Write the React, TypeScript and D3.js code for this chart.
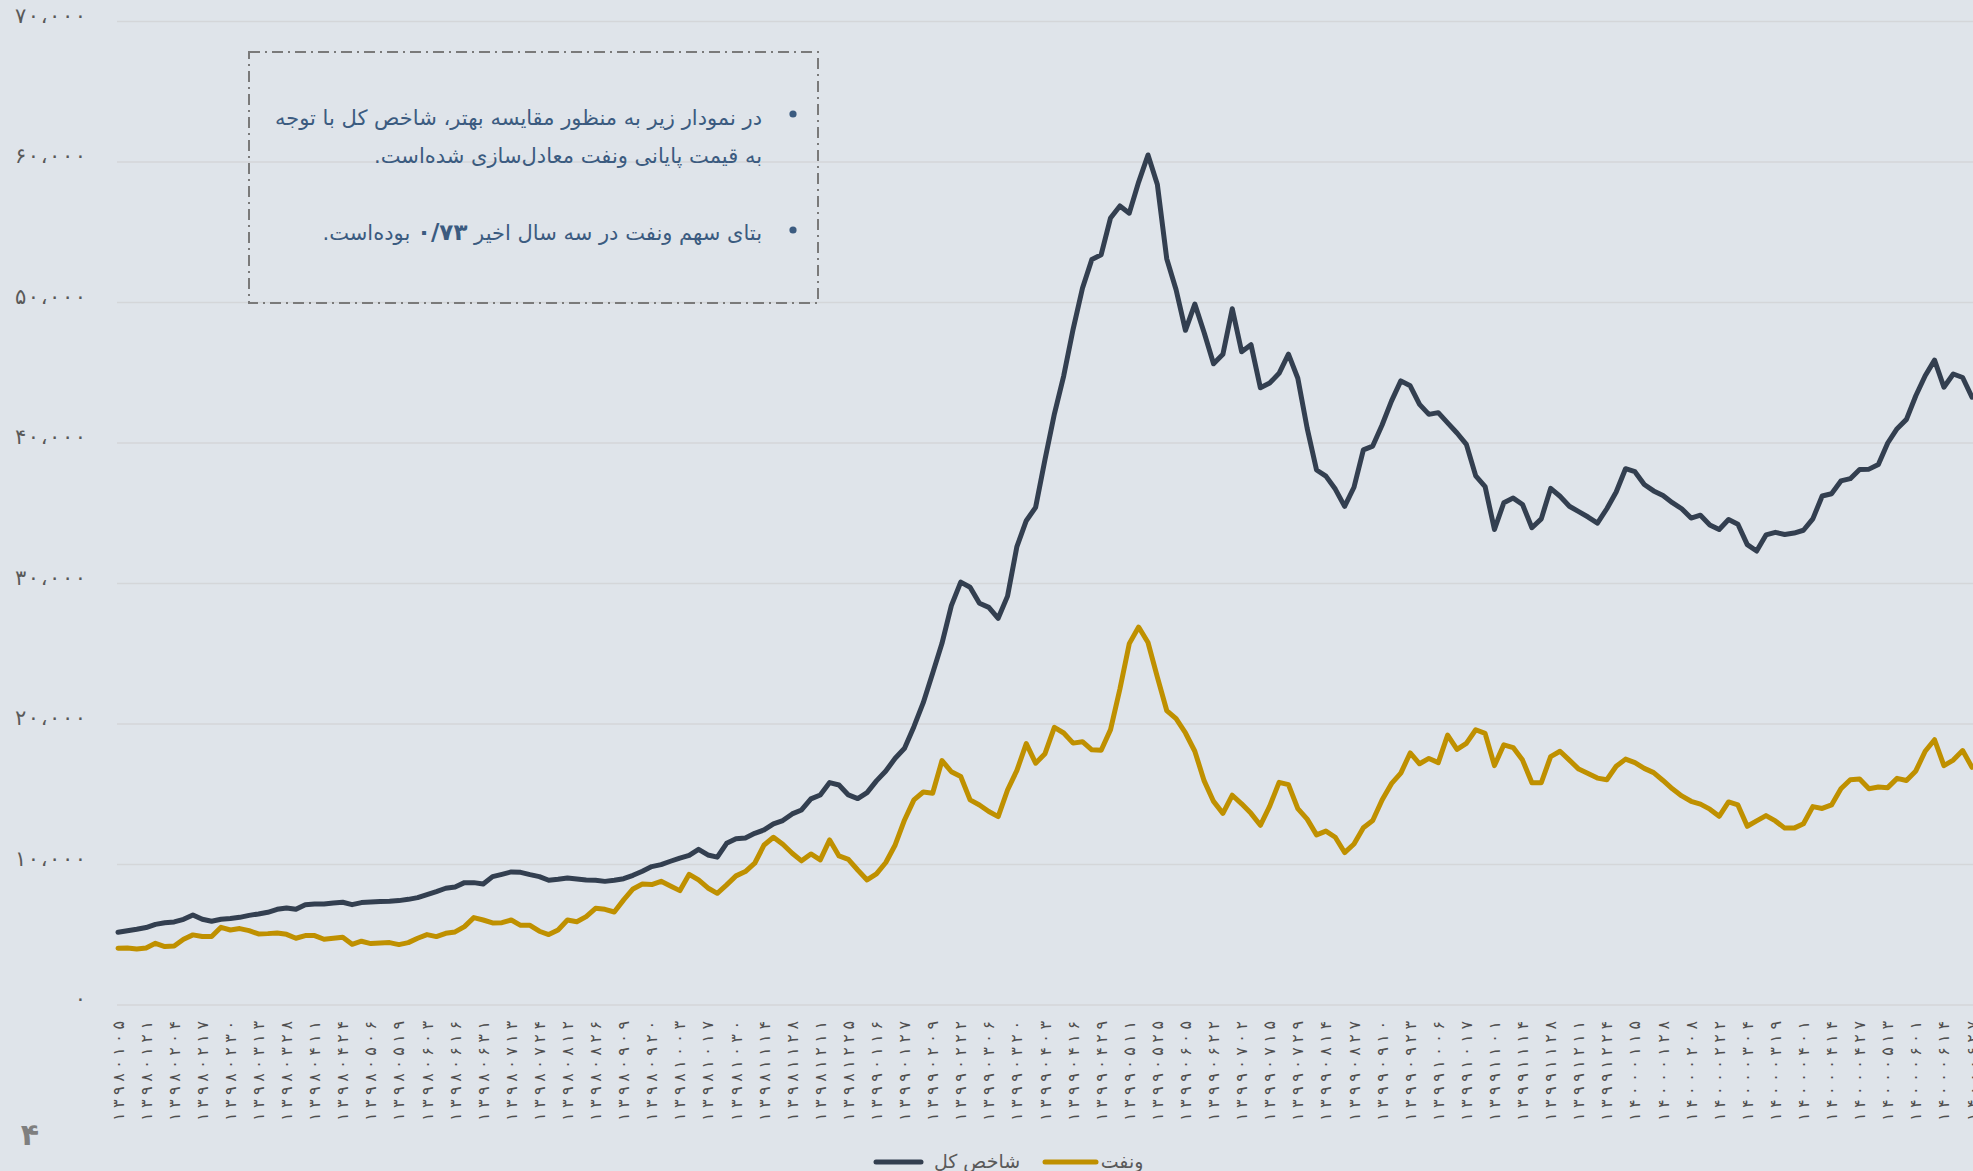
import { useEffect, useRef } from "react";
import * as d3 from "d3";

// x axis categories (one label every 3 samples)
const dateLabels = [
  "۱۳۹۸۰۱۰۵", "۱۳۹۸۰۱۲۱", "۱۳۹۸۰۲۰۴", "۱۳۹۸۰۲۱۷", "۱۳۹۸۰۲۳۰", "۱۳۹۸۰۳۱۳", "۱۳۹۸۰۳۲۸", "۱۳۹۸۰۴۱۱",
  "۱۳۹۸۰۴۲۴", "۱۳۹۸۰۵۰۶", "۱۳۹۸۰۵۱۹", "۱۳۹۸۰۶۰۳", "۱۳۹۸۰۶۱۶", "۱۳۹۸۰۶۳۱", "۱۳۹۸۰۷۱۳", "۱۳۹۸۰۷۲۴",
  "۱۳۹۸۰۸۱۲", "۱۳۹۸۰۸۲۶", "۱۳۹۸۰۹۰۹", "۱۳۹۸۰۹۲۰", "۱۳۹۸۱۰۰۳", "۱۳۹۸۱۰۱۷", "۱۳۹۸۱۰۳۰", "۱۳۹۸۱۱۱۴",
  "۱۳۹۸۱۱۲۸", "۱۳۹۸۱۲۱۱", "۱۳۹۸۱۲۲۵", "۱۳۹۹۰۱۱۶", "۱۳۹۹۰۱۲۷", "۱۳۹۹۰۲۰۹", "۱۳۹۹۰۲۲۲", "۱۳۹۹۰۳۰۶",
  "۱۳۹۹۰۳۲۰", "۱۳۹۹۰۴۰۳", "۱۳۹۹۰۴۱۶", "۱۳۹۹۰۴۲۹", "۱۳۹۹۰۵۱۱", "۱۳۹۹۰۵۲۵", "۱۳۹۹۰۶۰۵", "۱۳۹۹۰۶۲۲",
  "۱۳۹۹۰۷۰۲", "۱۳۹۹۰۷۱۵", "۱۳۹۹۰۷۲۹", "۱۳۹۹۰۸۱۴", "۱۳۹۹۰۸۲۷", "۱۳۹۹۰۹۱۰", "۱۳۹۹۰۹۲۳", "۱۳۹۹۱۰۰۶",
  "۱۳۹۹۱۰۱۷", "۱۳۹۹۱۱۰۱", "۱۳۹۹۱۱۱۴", "۱۳۹۹۱۱۲۸", "۱۳۹۹۱۲۱۱", "۱۳۹۹۱۲۲۴", "۱۴۰۰۰۱۱۵", "۱۴۰۰۰۱۲۸",
  "۱۴۰۰۰۲۰۸", "۱۴۰۰۰۲۲۲", "۱۴۰۰۰۳۰۴", "۱۴۰۰۰۳۱۹", "۱۴۰۰۰۴۰۱", "۱۴۰۰۰۴۱۴", "۱۴۰۰۰۴۲۷", "۱۴۰۰۰۵۱۳",
  "۱۴۰۰۰۶۰۱", "۱۴۰۰۰۶۱۴", "۱۴۰۰۰۶۲۷",
];
const STEPS_PER_LABEL = 3;

// شاخص کل (equalised to ونفت price)
const shakhesValues = [
  5180, 5290, 5390, 5510, 5740, 5860, 5910, 6100, 6410, 6100,
  5960, 6100, 6150, 6240, 6380, 6480, 6600, 6810, 6910, 6810,
  7140, 7190, 7190, 7260, 7310, 7140, 7290, 7330, 7360, 7380,
  7430, 7520, 7640, 7860, 8070, 8310, 8400, 8710, 8710, 8610,
  9140, 9300, 9470, 9440, 9280, 9140, 8880, 8950, 9040, 8970,
  8900, 8880, 8800, 8880, 8990, 9230, 9520, 9850, 9990, 10230,
  10460, 10650, 11080, 10680, 10520, 11510, 11840, 11890, 12220, 12460,
  12890, 13130, 13600, 13880, 14670, 14950, 15830, 15660, 14950, 14690,
  15120, 15950, 16660, 17560, 18270, 19810, 21520, 23610, 25740, 28420,
  30100, 29730, 28590, 28300, 27520, 29100, 32630, 34470, 35420, 38830,
  42060, 44780, 48090, 51010, 53060, 53400, 56020, 56870, 56360, 58570,
  60500, 58400, 53120, 50910, 48020, 49890, 47850, 45640, 46320, 49550,
  46490, 47000, 43930, 44270, 44960, 46320, 44610, 41040, 38080, 37640,
  36720, 35490, 36850, 39510, 39780, 41280, 42980, 44420, 44070, 42750,
  42040, 42160, 41430, 40710, 39900, 37660, 36900, 33840, 35750, 36080,
  35620, 33970, 34600, 36770, 36210, 35500, 35110, 34730, 34300, 35320,
  36510, 38170, 37960, 37050, 36590, 36260, 35750, 35320, 34660, 34860,
  34170, 33840, 34550, 34220, 32770, 32310, 33460, 33640, 33490, 33590,
  33790, 34600, 36230, 36390, 37300, 37460, 38120, 38140, 38470, 40000,
  41020, 41680, 43360, 44790, 45900, 43970, 44910, 44660, 43260,
];

// ونفت closing price
const vanaftValues = [
  4040, 4060, 3990, 4060, 4390, 4160, 4200, 4680, 4990, 4870,
  4870, 5530, 5340, 5440, 5290, 5060, 5080, 5130, 5030, 4750,
  4940, 4940, 4680, 4750, 4820, 4320, 4540, 4370, 4420, 4440,
  4300, 4440, 4750, 5010, 4870, 5100, 5200, 5580, 6220, 6050,
  5840, 5860, 6050, 5670, 5670, 5250, 5010, 5340, 6050, 5930,
  6290, 6880, 6810, 6620, 7480, 8260, 8610, 8570, 8800, 8470,
  8140, 9300, 8900, 8330, 7950, 8550, 9190, 9500, 10090, 11390,
  11940, 11440, 10800, 10260, 10750, 10330, 11750, 10610, 10370, 9610,
  8900, 9330, 10140, 11390, 13170, 14600, 15160, 15070, 17400, 16600,
  16260, 14600, 14240, 13770, 13410, 15300, 16700, 18600, 17210, 17890,
  19760, 19360, 18640, 18740, 18160, 18130, 19600, 22490, 25720, 26900,
  25800, 23340, 20960, 20380, 19360, 18060, 15950, 14490, 13640, 14930,
  14320, 13640, 12790, 14150, 15850, 15680, 13980, 13230, 12110, 12380,
  11940, 10850, 11460, 12620, 13130, 14590, 15750, 16500, 17940, 17170,
  17550, 17250, 19210, 18190, 18620, 19590, 19330, 17040, 18520, 18320,
  17430, 15820, 15820, 17680, 18060, 17430, 16790, 16480, 16150, 16030,
  16990, 17500, 17250, 16840, 16540, 15980, 15390, 14880, 14500, 14300,
  13940, 13430, 14450, 14240, 12720, 13100, 13480, 13100, 12590, 12590,
  12900, 14120, 13990, 14240, 15390, 16030, 16080, 15390, 15520, 15470,
  16130, 15980, 16660, 18060, 18880, 17040, 17430, 18110, 16920,
];

const yTicks = [0, 10000, 20000, 30000, 40000, 50000, 60000, 70000];
const yTickLabels = ["۰", "۱۰،۰۰۰", "۲۰،۰۰۰", "۳۰،۰۰۰", "۴۰،۰۰۰", "۵۰،۰۰۰", "۶۰،۰۰۰", "۷۰،۰۰۰"];

const seriesNames = ["شاخص کل", "ونفت"];
const seriesColors = ["#333f50", "#bf9000"];

const noteLine1 = "در نمودار زیر به منظور مقایسه بهتر، شاخص کل با توجه";
const noteLine2 = "به قیمت پایانی ونفت معادل\u200cسازی شده\u200cاست.";
const noteLine3a = "بتای سهم ونفت در سه سال اخیر ";
const noteBeta = "۰/۷۳";
const noteLine3b = " بوده\u200cاست.";
const pageNumber = "۴";

const FONT = "'DejaVu Sans', sans-serif";

export default function App() {
  const svgRef = useRef<SVGSVGElement>(null);

  useEffect(() => {
    if (!svgRef.current) return;
    const W = 1973;
    const H = 1171;
    const svg = d3.select(svgRef.current);
    svg.selectAll("*").remove();
    svg.attr("width", W).attr("height", H);

    svg.append("rect").attr("width", W).attr("height", H).attr("fill", "#dfe4ea");

    // scales
    const xScale = d3.scaleLinear().domain([0, dateLabels.length - 1]).range([118, 1972]);
    const yScale = d3.scaleLinear().domain([0, 70000]).range([1005, 21.5]);

    // gridlines
    svg.append("g")
      .selectAll("line")
      .data(yTicks)
      .enter()
      .append("line")
      .attr("x1", 117)
      .attr("x2", W)
      .attr("y1", d => yScale(d))
      .attr("y2", d => yScale(d))
      .attr("stroke", "#d4d6d9")
      .attr("stroke-width", 1.5);

    // y labels (arabic digits ignore letter-spacing, so stretch with textLength)
    const yl = svg.append("g")
      .selectAll("text")
      .data(yTicks)
      .enter()
      .append("text")
      .attr("x", 86)
      .attr("y", d => yScale(d) + 1)
      .attr("text-anchor", "end")
      .attr("font-family", FONT)
      .attr("font-size", 21)
      .attr("fill", "#595959")
      .text((_, i) => yTickLabels[i]);
    yl.filter((_, i) => yTickLabels[i].length > 1)
      .attr("textLength", 71)
      .attr("lengthAdjust", "spacing");

    // x labels, rotated
    svg.append("g")
      .selectAll("text")
      .data(dateLabels)
      .enter()
      .append("text")
      .attr("transform", (_, i) => `translate(${xScale(i)},1021) rotate(-90)`)
      .attr("text-anchor", "end")
      .attr("dominant-baseline", "central")
      .attr("font-family", FONT)
      .attr("font-size", 16)
      .attr("textLength", 100)
      .attr("lengthAdjust", "spacing")
      .attr("fill", "#4f4f4f")
      .text(d => d);

    // lines
    const line = d3.line<number>()
      .x((_, i) => xScale(i / STEPS_PER_LABEL))
      .y(d => yScale(d));

    [shakhesValues, vanaftValues].forEach((vals, si) => {
      svg.append("path")
        .attr("d", line(vals))
        .attr("fill", "none")
        .attr("stroke", seriesColors[si])
        .attr("stroke-width", 5)
        .attr("stroke-linejoin", "round")
        .attr("stroke-linecap", "round");
    });

    // legend
    const legendY = 1162;
    const legendItems = [
      { name: seriesNames[0], color: seriesColors[0], x0: 876, x1: 921, tx: 977 },
      { name: seriesNames[1], color: seriesColors[1], x0: 1045, x1: 1096, tx: 1122 },
    ];
    const lg = svg.append("g");
    legendItems.forEach(it => {
      lg.append("line")
        .attr("x1", it.x0).attr("x2", it.x1)
        .attr("y1", legendY).attr("y2", legendY)
        .attr("stroke", it.color)
        .attr("stroke-width", 5)
        .attr("stroke-linecap", "round");
      lg.append("text")
        .attr("x", it.tx)
        .attr("y", legendY + 6)
        .attr("text-anchor", "middle")
        .attr("font-family", FONT)
        .attr("font-size", 19)
        .attr("fill", "#595959")
        .text(it.name);
    });

    // note box
    const note = svg.append("g");
    note.append("rect")
      .attr("x", 249).attr("y", 52)
      .attr("width", 569).attr("height", 251)
      .attr("fill", "none")
      .attr("stroke", "#7a7a7a")
      .attr("stroke-width", 2)
      .attr("stroke-dasharray", "11 5 2 5");

    const noteColor = "#3b5b80";
    [114, 230].forEach(cy => {
      note.append("circle").attr("cx", 793).attr("cy", cy).attr("r", 3.6).attr("fill", noteColor);
    });
    const addLine = (y: number) =>
      note.append("text")
        .attr("x", 762)
        .attr("y", y)
        .attr("direction", "rtl")
        .attr("text-anchor", "start")
        .attr("font-family", FONT)
        .attr("font-size", 21)
        .attr("fill", noteColor);
    addLine(125).text(noteLine1);
    addLine(163).text(noteLine2);
    const l3 = addLine(240);
    l3.append("tspan").text(noteLine3a);
    l3.append("tspan").attr("font-weight", "bold").attr("font-size", 23).text(noteBeta);
    l3.append("tspan").text(noteLine3b);

    // page number
    svg.append("text")
      .attr("x", 30)
      .attr("y", 1145)
      .attr("text-anchor", "middle")
      .attr("font-family", FONT)
      .attr("font-size", 30)
      .attr("font-weight", "bold")
      .attr("fill", "#7f7f7f")
      .text(pageNumber);
  }, []);

  return (
    <div style={{ position: "absolute", left: 0, top: 0 }}>
      <svg ref={svgRef} style={{ display: "block" }}></svg>
    </div>
  );
}
